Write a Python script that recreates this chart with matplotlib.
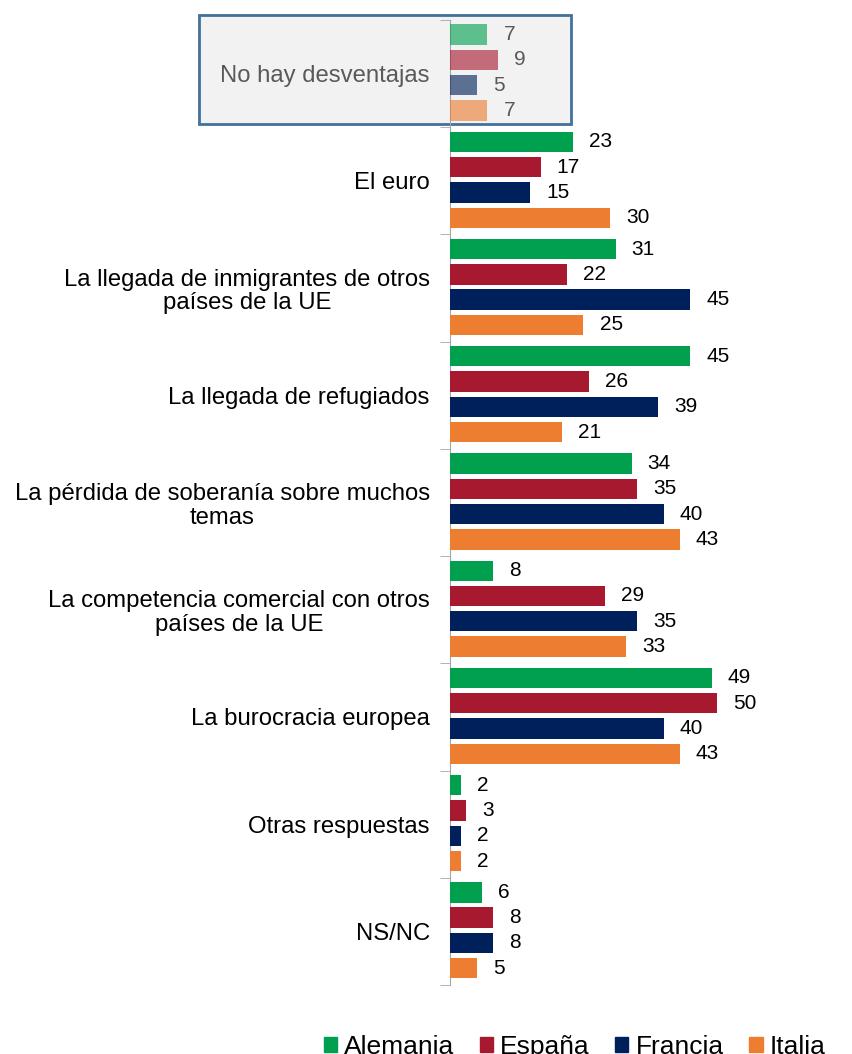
import numpy as np
import matplotlib.pyplot as plt
from matplotlib.patches import Rectangle, Patch

plt.rcParams['font.family'] = ['Liberation Sans', 'DejaVu Sans']

# Data
categories = ['No hay desventajas',
              'El euro',
              'La llegada de inmigrantes de otros\npaíses de la UE',
              'La llegada de refugiados',
              'La pérdida de soberanía sobre muchos\ntemas',
              'La competencia comercial con otros\npaíses de la UE',
              'La burocracia europea',
              'Otras respuestas',
              'NS/NC']
alemania = [7, 23, 31, 45, 34, 8, 49, 2, 6]
espana = [9, 17, 22, 26, 35, 29, 50, 3, 8]
francia = [5, 15, 45, 39, 40, 35, 40, 2, 8]
italia = [7, 30, 25, 21, 43, 33, 43, 2, 5]
series_names = ['Alemania', 'España', 'Francia', 'Italia']
colors = ['#00A04F', '#A6192E', '#00205B', '#ED7D31']

series = [alemania, espana, francia, italia]
n = len(categories)

fig = plt.figure(figsize=(8.53, 10.54), dpi=100)
ax = fig.add_axes([450/853, 1 - 985/1054, 1 - 450/853, 965/1054])
px_per_unit = 5.34
ax.set_xlim(0, (853 - 450) / px_per_unit)
ax.set_ylim(n, 0)

step = 0.236
bh = 0.19
for k, (vals, col) in enumerate(zip(series, colors)):
    ys = np.arange(n) + 0.49 + (k - 1.5) * step
    for i, (y, v) in enumerate(zip(ys, vals)):
        faded = (i == 0)
        ax.barh(y, v, height=bh, color=col, alpha=0.62 if faded else 1.0,
                zorder=3)
        ax.text(v + 3.0, y, str(v), va='center', ha='left', fontsize=15,
                color='#595959' if faded else 'black', zorder=4)

# highlight box around the first category
box = Rectangle(((199 - 450) / px_per_unit, -0.047),
                (571 - 199) / px_per_unit, 1.02,
                facecolor='#F2F2F2', edgecolor='#41719C', linewidth=2,
                clip_on=False, zorder=1)
ax.add_patch(box)

# axis styling
for s in ['top', 'right', 'bottom']:
    ax.spines[s].set_visible(False)
ax.spines['left'].set_color('#A6A6A6')
ax.set_xticks([])
ax.set_yticks(np.arange(n) + 0.5)
ax.set_yticklabels(categories, fontsize=17.2, multialignment='center',
                   linespacing=1.1)
ax.tick_params(axis='y', length=0, pad=14.5)
ax.get_yticklabels()[0].set_color('#595959')
ax.set_yticks(np.arange(n + 1), minor=True)
ax.tick_params(axis='y', which='minor', length=7, color='#A6A6A6')

handles = [Patch(color=c) for c in colors]
fig.legend(handles, series_names, loc='upper left', ncol=4, frameon=False,
           bbox_to_anchor=(313/853, 1 - 1024/1054), fontsize=19,
           handlelength=0.5, handleheight=0.5, handletextpad=0.27,
           columnspacing=0.97, borderaxespad=0)

fig.savefig('out.png', dpi=100)
